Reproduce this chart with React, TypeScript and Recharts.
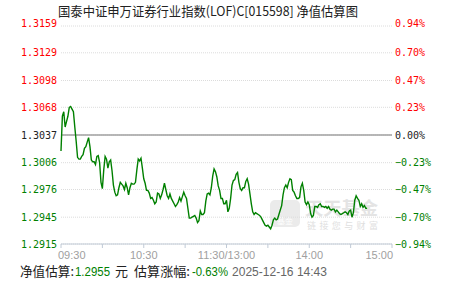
import { LineChart, Line, XAxis, YAxis, CartesianGrid, ReferenceLine } from 'recharts'

const FUND_TITLE = '国泰中证申万证券行业指数(LOF)C[015598] 净值估算图'
const PREV_NAV = 1.3037

// estimated NAV, one value per minute: 09:30 .. 11:30
const morningNav = [
  1.3019, 1.3058, 1.3063, 1.3046, 1.3052, 1.3058, 1.3068, 1.3069, 1.3066, 1.3063,
  1.3046, 1.3030, 1.3012, 1.3010, 1.3010, 1.3013, 1.3015, 1.3022, 1.3024, 1.3029,
  1.3034, 1.3024, 1.3009, 1.3007, 1.3007, 1.3004, 1.3013, 1.3014, 1.3006, 1.2984,
  1.2977, 1.2998, 1.3013, 1.3010, 1.3000, 1.3007, 1.3009, 1.2997, 1.2981, 1.2973,
  1.2969, 1.2970, 1.2978, 1.2984, 1.2982, 1.2980, 1.2976, 1.2983, 1.2978, 1.2970,
  1.2978, 1.2983, 1.2982, 1.2982, 1.2984, 1.2998, 1.3010, 1.3008, 1.3011, 1.3000,
  1.2988, 1.2983, 1.2975, 1.2975, 1.2972, 1.2966, 1.2967, 1.2964, 1.2960, 1.2962,
  1.2972, 1.2971, 1.2966, 1.2970, 1.2976, 1.2983, 1.2976, 1.2969, 1.2966, 1.2971,
  1.2966, 1.2963, 1.2960, 1.2957, 1.2959, 1.2962, 1.2967, 1.2963, 1.2968, 1.2973,
  1.2969, 1.2966, 1.2955, 1.2944, 1.2944, 1.2945, 1.2946, 1.2947, 1.2944, 1.2939,
  1.2941, 1.2952, 1.2948, 1.2948, 1.2950, 1.2963, 1.2971, 1.2972, 1.2970, 1.2978,
  1.2991, 1.2999, 1.2996, 1.2990, 1.2980, 1.2975, 1.2966, 1.2966, 1.2960, 1.2960,
  1.2964,
]

// 13:01 .. 14:42
const afternoonNav = [
  1.2951, 1.2955, 1.2966, 1.2981, 1.2986, 1.2987, 1.2993, 1.2995, 1.2984, 1.2977,
  1.2975, 1.2978, 1.2978, 1.2985, 1.2988, 1.2982, 1.2971, 1.2960, 1.2951, 1.2948,
  1.2950, 1.2949, 1.2948, 1.2947, 1.2945, 1.2942, 1.2939, 1.2936, 1.2935, 1.2936,
  1.2934, 1.2932, 1.2936, 1.2942, 1.2944, 1.2942, 1.2943, 1.2948, 1.2953, 1.2958,
  1.2970, 1.2978, 1.2981, 1.2978, 1.2984, 1.2988, 1.2987, 1.2975, 1.2973, 1.2969,
  1.2966, 1.2966, 1.2967, 1.2979, 1.2983, 1.2975, 1.2962, 1.2959, 1.2962, 1.2959,
  1.2949, 1.2945, 1.2947, 1.2957, 1.2957, 1.2956, 1.2959, 1.2960, 1.2957, 1.2957,
  1.2956, 1.2957, 1.2955, 1.2957, 1.2954, 1.2953, 1.2954, 1.2954, 1.2951, 1.2953,
  1.2951, 1.2949, 1.2948, 1.2949, 1.2950, 1.2951, 1.2950, 1.2948, 1.2952, 1.2953,
  1.2945, 1.2950, 1.2964, 1.2969, 1.2966, 1.2964, 1.2957, 1.2960, 1.2956, 1.2958,
  1.2955, 1.2955,
]

const navTicks = [1.2915, 1.2945, 1.2976, 1.3006, 1.3037, 1.3068, 1.3098, 1.3129, 1.3159]
const pctLabels = ['−0.94%', '−0.70%', '−0.47%', '−0.23%', '0.00%', '0.23%', '0.47%', '0.70%', '0.94%']

const minuteTicks = [0, 30, 60, 90, 120, 150, 180, 210, 240]
const timeTickMinutes = [0, 60, 120, 180, 240]
const timeTickLabels = ['09:30', '10:30', '11:30/13:00', '14:00', '15:00']

const estNav = '1.2955'
const estPct = '-0.63%'
const estTime = '2025-12-16 14:43'

const data = [...morningNav, ...afternoonNav].map((v, i) => ({ m: i, v }))

const MONO = "'DejaVu Sans Mono', monospace"
const CJK = "'Noto Sans CJK SC', sans-serif"
const SANS = "'Liberation Sans', Arial, sans-serif"

function navColor(v: number) {
  if (v > PREV_NAV) return '#ff0000'
  if (v < PREV_NAV) return '#008000'
  return '#222'
}

const NavTick = ({ x, y, payload }: any) => {
  const v = payload.value
  const top = v === navTicks[navTicks.length - 1]
  return (
    <text x={x} y={y} dy={top ? 0.5 : 3.5} textAnchor="end" fill={navColor(v)} fontSize={10} fontFamily={MONO}>
      {v.toFixed(4)}
    </text>
  )
}

const PctTick = ({ x, y, payload }: any) => {
  const v = payload.value
  const top = v === navTicks[navTicks.length - 1]
  return (
    <text x={x} y={y} dy={top ? 0.5 : 3.5} textAnchor="start" fill={navColor(v)} fontSize={10} fontFamily={MONO}>
      {pctLabels[navTicks.indexOf(v)]}
    </text>
  )
}

const TimeTick = ({ x, y, payload }: any) => {
  const i = timeTickMinutes.indexOf(payload.value)
  if (i < 0) return <g />
  const last = timeTickMinutes.length - 1
  const anchor = i === 0 ? 'start' : i === last ? 'end' : 'middle'
  const dx = i === 0 ? -3 : i === last ? 1 : 0
  return (
    <text x={x + dx} y={y} dy={7} textAnchor={anchor} fill="#a0a0a0" fontSize={11} fontFamily={SANS}>
      {timeTickLabels[i]}
    </text>
  )
}

export default function App() {
  return (
    <div style={{ position: 'absolute', left: 0, top: 0, width: 451, height: 281, background: '#fff' }}>
      <svg width={451} height={281} style={{ position: 'absolute', left: 0, top: 0 }}>
        {/* watermark */}
        <rect x={270} y={200} width={30} height={27} rx={5} fill="#ebebeb" />
        <text x={285} y={224} textAnchor="middle" fontSize={8} fill="#fff" fontFamily={CJK}>基金</text>
        <text x={305} y={215} fontSize={18} fontWeight="bold" fill="#e4e4e4" fontFamily={CJK} textLength={73} lengthAdjust="spacingAndGlyphs">
          天天基金
        </text>
        <text x={307} y={229} fontSize={9} fill="#e0e0e0" fontFamily={CJK} textLength={71}>
          链接您与财富
        </text>

        <text x={58} y={15.5} fontSize={13} fill="#222" fontFamily={CJK} textLength={300} lengthAdjust="spacingAndGlyphs">
          {FUND_TITLE}
        </text>

        <text x={20} y={276} fontSize={13} fill="#222" fontFamily={CJK} textLength={54} lengthAdjust="spacingAndGlyphs">净值估算:</text>
        <text x={75} y={276} fontSize={12} fill="#008000" fontFamily={SANS} textLength={35} lengthAdjust="spacingAndGlyphs">{estNav}</text>
        <text x={115} y={276} fontSize={13} fill="#222" fontFamily={CJK}>元</text>
        <text x={134} y={276} fontSize={13} fill="#222" fontFamily={CJK} textLength={56} lengthAdjust="spacingAndGlyphs">估算涨幅:</text>
        <text x={192} y={276} fontSize={12} fill="#008000" fontFamily={SANS} textLength={36} lengthAdjust="spacingAndGlyphs">{estPct}</text>
        <text x={232} y={276} fontSize={12} fill="#666" fontFamily={SANS} textLength={95} lengthAdjust="spacingAndGlyphs">{estTime}</text>
      </svg>
      <div style={{ position: 'absolute', left: 0, top: 0 }}>
        <LineChart width={451} height={281} data={data} margin={{ top: 26, right: 0, bottom: 0, left: 0 }}>
          <CartesianGrid horizontal vertical={false} stroke="#dcdcdc" strokeDasharray="1 1" />
          <XAxis
            dataKey="m"
            type="number"
            domain={[0, 240]}
            ticks={minuteTicks}
            interval={0}
            height={37}
            tickSize={4}
            tickMargin={4}
            stroke="#c0cad6"
            tickLine={{ stroke: '#c0cad6' }}
            tick={<TimeTick />}
          />
          <YAxis
            domain={[navTicks[0], navTicks[navTicks.length - 1]]}
            ticks={navTicks}
            interval={0}
            width={61}
            axisLine={false}
            tickLine={false}
            tickSize={0}
            tickMargin={4}
            tick={<NavTick />}
          />
          <YAxis
            yAxisId="r"
            orientation="right"
            domain={[navTicks[0], navTicks[navTicks.length - 1]]}
            ticks={navTicks}
            interval={0}
            width={59}
            axisLine={false}
            tickLine={false}
            tickSize={0}
            tickMargin={3}
            tick={<PctTick />}
          />
          <ReferenceLine y={PREV_NAV} stroke="#a0a0a0" strokeWidth={1.5} />
          <Line yAxisId="r" dataKey="v" stroke="none" dot={false} activeDot={false} isAnimationActive={false} />
          <Line dataKey="v" stroke="#008000" strokeWidth={1.4} dot={false} activeDot={false} isAnimationActive={false} />
        </LineChart>
      </div>
    </div>
  )
}
